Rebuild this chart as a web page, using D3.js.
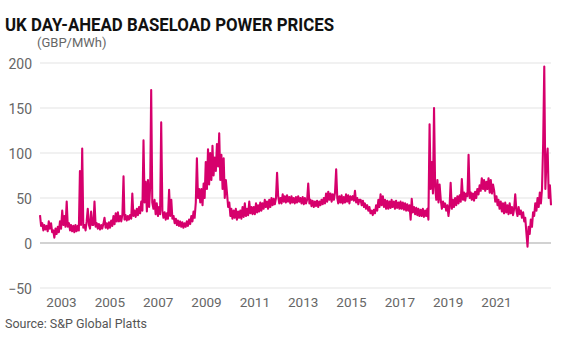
<!DOCTYPE html>
<html>
<head>
<meta charset="utf-8">
<script src="https://cdn.jsdelivr.net/npm/d3@7/dist/d3.min.js"></script>
<style>
  body { margin: 0; background: #fff; }
  text { font-family: Roboto, "Noto Sans", sans-serif; }
</style>
</head>
<body>
<svg id="chart" width="573" height="345"></svg>
<script>
// half-monthly readings (1st and 16th of each month), GBP/MWh
const p2002 = [31, 19, 22, 14, 20, 15, 19, 13, 24, 16, 22, 12, 14, 6, 16, 10, 18, 12, 24, 16, 36, 20, 30, 18];
const p2003 = [46, 18, 22, 14, 20, 13, 19, 12, 20, 13, 19, 14, 80, 20, 105, 17, 20, 14, 24, 38, 20, 16, 35, 20];
const p2004 = [20, 46, 18, 22, 16, 21, 15, 20, 16, 21, 28, 17, 22, 16, 23, 17, 25, 19, 30, 21, 33, 24, 34, 24];
const p2005 = [30, 24, 32, 74, 26, 31, 25, 30, 26, 31, 27, 55, 30, 36, 29, 38, 31, 40, 33, 46, 36, 114, 45, 68];
const p2006 = [35, 70, 40, 65, 170, 45, 38, 48, 32, 44, 30, 40, 32, 134, 36, 28, 34, 26, 33, 27, 59, 30, 48, 27];
const p2007 = [30, 22, 27, 20, 25, 19, 24, 18, 23, 17, 22, 18, 24, 19, 26, 21, 30, 24, 35, 28, 45, 94, 50, 60];
const p2008 = [45, 60, 42, 66, 50, 90, 60, 104, 65, 100, 70, 108, 75, 95, 80, 110, 85, 122, 70, 98, 60, 94, 50, 70];
const p2009 = [55, 40, 45, 30, 38, 27, 36, 28, 38, 26, 35, 28, 36, 27, 40, 29, 44, 30, 38, 31, 46, 33, 40, 32];
const p2010 = [40, 32, 44, 34, 42, 35, 45, 36, 44, 38, 48, 40, 46, 38, 48, 40, 50, 42, 49, 43, 50, 78, 52, 44];
const p2011 = [50, 44, 54, 46, 52, 45, 53, 46, 51, 44, 52, 45, 50, 44, 51, 45, 52, 46, 50, 44, 51, 43, 50, 44];
const p2012 = [48, 66, 44, 48, 41, 47, 40, 46, 41, 47, 40, 46, 42, 48, 43, 50, 44, 55, 46, 57, 48, 55, 46, 54];
const p2013 = [48, 56, 82, 50, 44, 52, 45, 53, 44, 51, 45, 54, 46, 53, 44, 52, 48, 52, 47, 58, 45, 50, 43, 48];
const p2014 = [48, 42, 47, 40, 44, 38, 42, 36, 40, 33, 36, 31, 37, 33, 42, 36, 48, 40, 54, 42, 52, 40, 48, 38];
const p2015 = [47, 38, 46, 39, 48, 40, 46, 38, 47, 39, 45, 38, 46, 38, 45, 37, 44, 36, 43, 36, 42, 26, 49, 34];
const p2016 = [40, 32, 39, 31, 38, 30, 37, 30, 38, 29, 36, 30, 38, 26, 132, 60, 90, 55, 150, 62, 48, 70, 45, 65];
const p2017 = [48, 38, 46, 40, 44, 36, 42, 30, 40, 67, 38, 48, 40, 50, 42, 52, 44, 53, 46, 71, 48, 56, 47, 55];
const p2018 = [52, 98, 50, 56, 48, 55, 47, 57, 50, 60, 54, 64, 58, 72, 60, 70, 58, 68, 60, 72, 56, 70, 55, 65];
const p2019 = [58, 46, 52, 42, 48, 38, 46, 35, 44, 33, 45, 34, 42, 32, 44, 33, 40, 31, 38, 54, 36, 30, 40, 32];
const p2020 = [36, 28, 34, 24, 28, 12, -4, 18, 10, 26, 18, 34, 30, 44, 36, 50, 40, 56, 44, 60, 111, 196, 60, 90];
const p2021 = [105, 50, 64, 42];

const years = [2002, 2003, 2004, 2005, 2006, 2007, 2008, 2009, 2010, 2011,
               2012, 2013, 2014, 2015, 2016, 2017, 2018, 2019, 2020, 2021];
const yearValues = [p2002, p2003, p2004, p2005, p2006, p2007, p2008, p2009, p2010, p2011,
                    p2012, p2013, p2014, p2015, p2016, p2017, p2018, p2019, p2020, p2021];

const xLabels = ["2003", "2005", "2007", "2009", "2011", "2013", "2015", "2017", "2019", "2021"];
const yTicks = [-50, 0, 50, 100, 150, 200];

const data = [];
years.forEach((yr, i) => {
  yearValues[i].forEach((v, s) => {
    data.push({ date: new Date(yr, Math.floor(s / 2), s % 2 ? 16 : 1), value: v });
  });
});

const width = 573, height = 345;
const margin = { top: 63, right: 22, bottom: 57, left: 40 };

const svg = d3.select("#chart");

svg.append("rect").attr("width", width).attr("height", height).attr("fill", "#fff");

const x = d3.scaleTime()
  .domain(d3.extent(data, d => d.date))
  .range([margin.left, width - margin.right]);

const y = d3.scaleLinear()
  .domain([-50, 200])
  .range([height - margin.bottom, margin.top]);

// labels sit on their own evenly spaced positions, as in the original
const xLab = d3.scalePoint()
  .domain(xLabels)
  .range([margin.left + 21, width - margin.right - 55]);

// gridlines
svg.append("g")
  .selectAll("line")
  .data(yTicks)
  .enter()
  .append("line")
  .attr("x1", margin.left)
  .attr("x2", width - margin.right)
  .attr("y1", d => y(d))
  .attr("y2", d => y(d))
  .attr("stroke", d => d === 0 ? "#a6a6a6" : "#e3e3e3")
  .attr("stroke-width", 1.2);

const yAxis = svg.append("g")
  .attr("transform", `translate(${margin.left - 8},0)`)
  .call(d3.axisLeft(y).tickValues(yTicks).tickSize(0).tickPadding(0));
yAxis.select(".domain").remove();
yAxis.selectAll("text")
  .attr("fill", "#666")
  .attr("dy", "0.4em")
  .style("font-size", "14px");

const xAxis = svg.append("g")
  .attr("transform", `translate(0,${height - margin.bottom})`)
  .call(d3.axisBottom(xLab).tickSize(0).tickPadding(0));
xAxis.select(".domain").remove();
xAxis.selectAll("text")
  .attr("fill", "#666")
  .attr("y", 19)
  .attr("dy", 0)
  .style("font-size", "13.5px");

const line = d3.line()
  .x(d => x(d.date))
  .y(d => y(d.value));

svg.append("path")
  .datum(data)
  .attr("fill", "none")
  .attr("stroke", "#d6006c")
  .attr("stroke-width", 2.1)
  .attr("stroke-linejoin", "round")
  .attr("d", line);

svg.append("text")
  .attr("x", 5)
  .attr("y", 31)
  .attr("textLength", 329)
  .attr("lengthAdjust", "spacingAndGlyphs")
  .attr("fill", "#111")
  .style("font-size", "19px")
  .style("font-weight", "700")
  .text("UK DAY-AHEAD BASELOAD POWER PRICES");

svg.append("text")
  .attr("x", 37)
  .attr("y", 47)
  .attr("fill", "#666")
  .style("font-size", "13px")
  .text("(GBP/MWh)");

svg.append("text")
  .attr("x", 5)
  .attr("y", 328)
  .attr("fill", "#555")
  .style("font-size", "12.5px")
  .text("Source: S&P Global Platts");
</script>
</body>
</html>
